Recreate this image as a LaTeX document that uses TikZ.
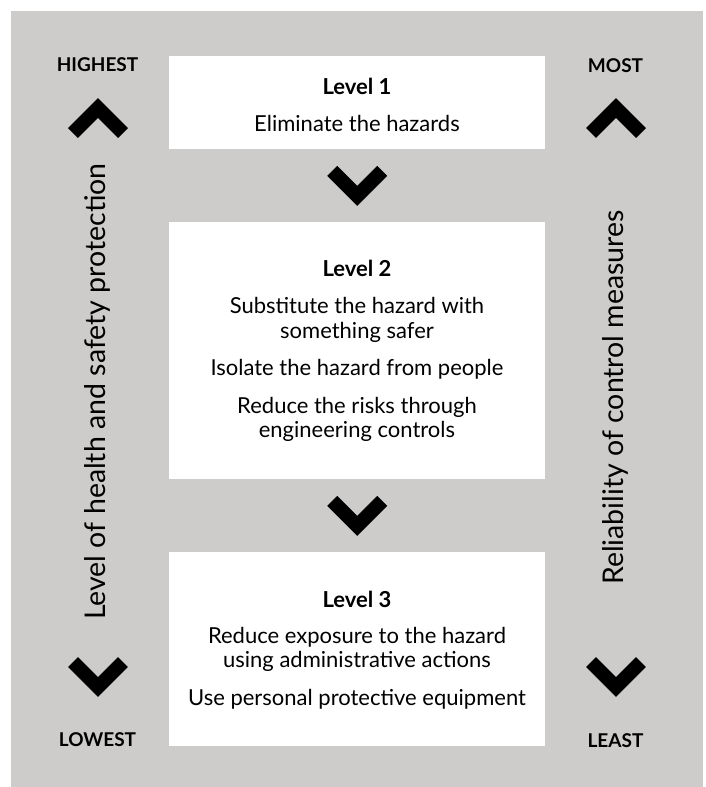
\documentclass[tikz,border=0pt]{standalone}
\usepackage{fontspec}
\setmainfont{Lato}
\usetikzlibrary{positioning}
\definecolor{bggray}{RGB}{205,204,203}
\tikzset{
    levelbox/.style={fill=white,draw=none,inner sep=0pt,minimum width=376pt,anchor=north west},
    chevron/.style={line width=14.1pt,line join=miter,line cap=butt},
    sidetag/.style={font=\fontsize{19}{19}\selectfont\bfseries,anchor=base,inner sep=0pt},
    titletext/.style={font=\fontsize{22}{22}\selectfont\bfseries,anchor=base,inner sep=0pt},
    bodytext/.style={font=\fontsize{22}{22}\selectfont,anchor=base,inner sep=0pt},
    sidetext/.style={font=\fontsize{28.5}{28.5}\selectfont,anchor=base,rotate=90,inner sep=0pt}
}
\begin{document}
\begin{tikzpicture}[x=1pt,y=-1pt]
    \useasboundingbox (0,0) rectangle (706,787);
    \fill[bggray] (11,11) rectangle (703,787);
    % the three levels
    \node[levelbox,minimum height=93pt] (lvlone) at (169,56) {};
    \node[levelbox,minimum height=257pt] (lvltwo) at (169,222) {};
    \node[levelbox,minimum height=194pt] (lvlthree) at (169,552) {};
    \node[titletext] (titleone) at (357,94) {Level 1};
    \node[bodytext] (lone-1) at (357,131) {Eliminate the hazards};
    \node[titletext] (titletwo) at (357,276) {Level 2};
    \foreach \txt/\yy [count=\k] in {Substitute the hazard with/313.5,something safer/338,
        Isolate the hazard from people/375.5,Reduce the risks through/413,engineering controls/437.5}{
        \node[bodytext] (ltwo-\k) at (357,\yy) {\txt};
    }
    \node[titletext] (titlethree) at (357,607) {Level 3};
    \foreach \txt/\yy [count=\k] in {Reduce exposure to the hazard/643,using administrative actions/667.5,
        Use personal protective equipment/705}{
        \node[bodytext] (lthree-\k) at (357,\yy) {\txt};
    }
    % chevrons between the boxes
    \coordinate[below=36.5pt of lvlone] (gapone);
    \coordinate[below=36.5pt of lvltwo] (gaptwo);
    \foreach \c in {gapone,gaptwo}{
        \draw[chevron] (\c) ++(-25,-15) -- ++(25,25) -- ++(25,-25);
    }
    % side scales
    \foreach \xx in {98,616}{
        \draw[chevron] (\xx,118) ++(-25,15) -- ++(25,-25) -- ++(25,25);
        \draw[chevron] (\xx,677) ++(-25,-15) -- ++(25,25) -- ++(25,-25);
    }
    \node[sidetag] (highest) at (97.5,71) {HIGHEST};
    \node[sidetag] (lowest) at (97.5,746) {LOWEST};
    \node[sidetag] (most) at (615.5,72) {MOST};
    \node[sidetag] (least) at (615.5,747) {LEAST};
    \node[sidetext] (protection) at (105,391.5) {Level of health and safety protection};
    \node[sidetext] (reliability) at (623,397.5) {Reliability of control measures};
\end{tikzpicture}
\end{document}
